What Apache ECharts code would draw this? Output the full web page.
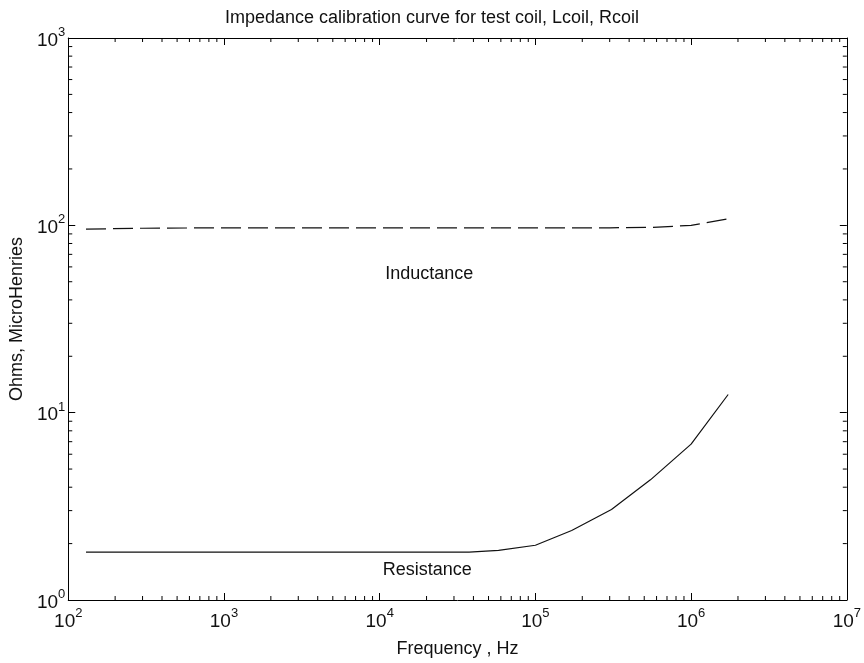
<!DOCTYPE html>
<html>
<head>
<meta charset="utf-8">
<script src="https://cdn.jsdelivr.net/npm/echarts@6/dist/echarts.min.js"></script>
<style>html,body{margin:0;padding:0;background:#fff}#c{width:864px;height:663px}</style>
</head>
<body>
<div id="c"></div>
<script>
var titleText = 'Impedance calibration curve for test coil, Lcoil, Rcoil';
var xName = 'Frequency , Hz';
var yName = 'Ohms, MicroHenries';
var xTicks = [1e2, 1e3, 1e4, 1e5, 1e6, 1e7];
var yTicks = [1e0, 1e1, 1e2, 1e3];
var indFreq = [130, 300, 1e3, 1e4, 1e5, 3e5, 5.6e5, 1e6, 1.7e6];
var indVal  = [95.5, 96.5, 97, 97, 97, 97, 97.5, 100, 108];
var resFreq = [130, 1e3, 1e4, 3.75e4, 5.8e4, 1e5, 1.71e5, 3.08e5, 5.48e5, 1e6, 1.73e6];
var resVal  = [1.80, 1.80, 1.80, 1.80, 1.84, 1.96, 2.35, 3.04, 4.38, 6.79, 12.5];
var textLabels = ['Inductance', 'Resistance'];
var labelAt = [[2.08e4, 55], [2.02e4, 1.44]];

function pairs(xs, ys) { return xs.map(function (x, i) { return [x, ys[i]]; }); }
function minors(ticks) {
  var out = [];
  for (var i = 0; i < ticks.length - 1; i++) for (var m = 2; m <= 9; m++) out.push(ticks[i] * m);
  return out;
}
var FONT = 'Liberation Sans, Arial, sans-serif';
function expLabel(v) {
  var e = Math.round(Math.log10(v));
  return '{b|10}{s|' + e + '}';
}
var rich = {
  b: { fontSize: 19, fontFamily: FONT, color: '#111', verticalAlign: 'bottom', lineHeight: 24 },
  s: { fontSize: 13, fontFamily: FONT, color: '#111', verticalAlign: 'top', lineHeight: 24 }
};
var xMin = xTicks[0], xMax = xTicks[xTicks.length - 1];
var yMin = yTicks[0], yMax = yTicks[yTicks.length - 1];
var axisCommon = {
  axisLine: { show: true, onZero: false, lineStyle: { color: '#000', width: 1 } },
  axisTick: { show: true, inside: true, length: 7, lineStyle: { color: '#000' } },
  splitLine: { show: false },
  minorTick: { show: false }
};
var chart = echarts.init(document.getElementById('c'), null, { renderer: 'canvas' });
var tickLen = 4;
chart.setOption({
  backgroundColor: '#fff',
  animation: false,
  title: { text: titleText, left: 'center', top: 4,
    textStyle: { fontSize: 18, fontWeight: 'normal', fontFamily: FONT, color: '#111' } },
  grid: { left: 68, right: 15, top: 38, bottom: 59, containLabel: false },
  xAxis: [
    Object.assign({ type: 'log', logBase: 10, min: xMin, max: xMax, position: 'bottom',
      name: xName, nameLocation: 'middle', nameGap: 40,
      nameTextStyle: { fontSize: 18, fontFamily: FONT, color: '#111' },
      axisLabel: { formatter: expLabel, rich: rich, margin: 7 } }, axisCommon),
    Object.assign({ type: 'log', logBase: 10, min: xMin, max: xMax, position: 'top',
      axisLabel: { show: false } }, axisCommon)
  ],
  yAxis: [
    Object.assign({ type: 'log', logBase: 10, min: yMin, max: yMax, position: 'left',
      name: yName, nameLocation: 'middle', nameGap: 36, nameRotate: 90,
      nameTextStyle: { fontSize: 18, fontFamily: FONT, color: '#111' },
      axisLabel: { formatter: expLabel, rich: rich, margin: 3 } }, axisCommon),
    Object.assign({ type: 'log', logBase: 10, min: yMin, max: yMax, position: 'right',
      axisLabel: { show: false } }, axisCommon)
  ],
  series: [
    { name: 'Inductance', type: 'line', data: pairs(indFreq, indVal), showSymbol: false,
      lineStyle: { color: '#111', width: 1.2, type: [20, 7] }, z: 3 },
    { name: 'Resistance', type: 'line', data: pairs(resFreq, resVal), showSymbol: false,
      lineStyle: { color: '#111', width: 1.2, type: 'solid' }, z: 3 },
    { type: 'custom', silent: true, data: minors(xTicks).map(function (v) { return [v, yMin]; }),
      encode: { x: 0, y: 1 },
      renderItem: function (params, api) {
        var v = api.value(0);
        var b = api.coord([v, yMin]), t = api.coord([v, yMax]);
        var st = { stroke: '#000', lineWidth: 1 };
        return { type: 'group', children: [
          { type: 'line', shape: { x1: b[0], y1: b[1], x2: b[0], y2: b[1] - tickLen }, style: st },
          { type: 'line', shape: { x1: t[0], y1: t[1], x2: t[0], y2: t[1] + tickLen }, style: st }
        ] };
      }, z: 4 },
    { type: 'custom', silent: true, data: minors(yTicks).map(function (v) { return [xMin, v]; }),
      encode: { x: 0, y: 1 },
      renderItem: function (params, api) {
        var v = api.value(1);
        var l = api.coord([xMin, v]), r = api.coord([xMax, v]);
        var st = { stroke: '#000', lineWidth: 1 };
        return { type: 'group', children: [
          { type: 'line', shape: { x1: l[0], y1: l[1], x2: l[0] + tickLen, y2: l[1] }, style: st },
          { type: 'line', shape: { x1: r[0], y1: r[1], x2: r[0] - tickLen, y2: r[1] }, style: st }
        ] };
      }, z: 4 }
  ]
});
var g = textLabels.map(function (t, i) {
  var p = chart.convertToPixel({ xAxisIndex: 0, yAxisIndex: 0 }, labelAt[i]);
  return { type: 'text', x: p[0], y: p[1],
    style: { text: t, fontSize: 18, fontFamily: FONT, fill: '#111', align: 'center', verticalAlign: 'middle' } };
});
chart.setOption({ graphic: g });
</script>
</body>
</html>
